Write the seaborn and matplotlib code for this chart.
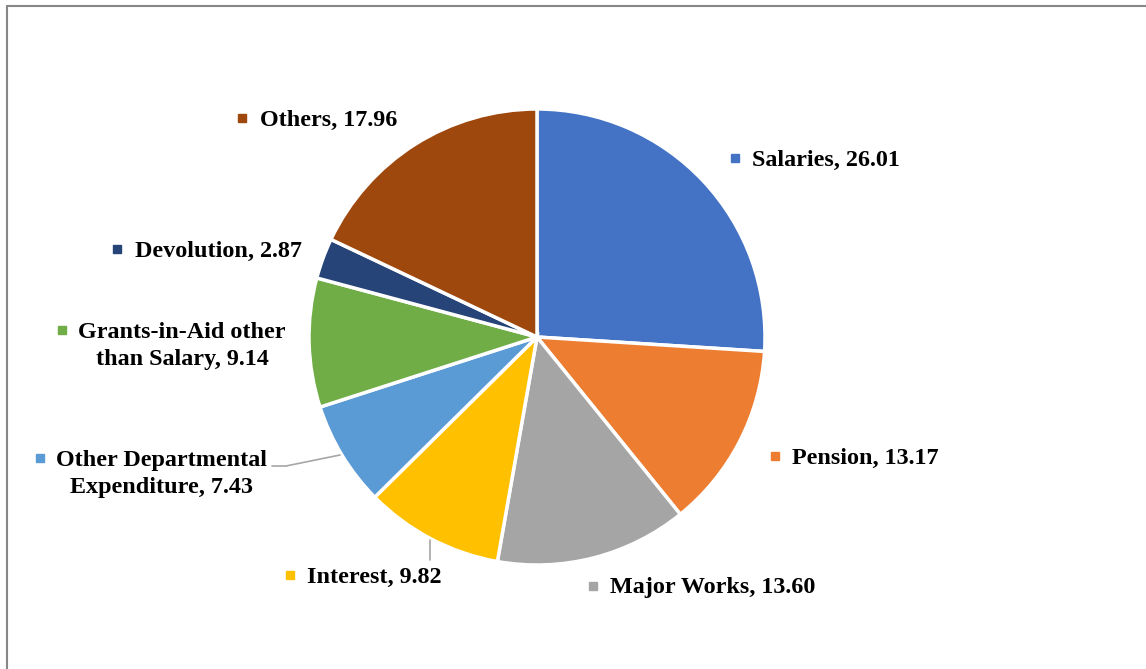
import matplotlib
matplotlib.use("Agg")
import matplotlib.pyplot as plt
import seaborn as sns
from matplotlib.lines import Line2D

sns.set_theme(style="white")
plt.rcParams['font.family'] = ['Liberation Serif', 'DejaVu Serif']

categories = ["Salaries", "Pension", "Major Works", "Interest",
              "Other Departmental\nExpenditure", "Grants-in-Aid other\nthan Salary",
              "Devolution", "Others"]
values = [26.01, 13.17, 13.60, 9.82, 7.43, 9.14, 2.87, 17.96]
colors = ["#4472C4", "#ED7D31", "#A5A5A5", "#FFC000",
          "#5B9BD5", "#70AD47", "#264478", "#9E480E"]

W, H = 1146, 669
fig = plt.figure(figsize=(W / 100, H / 100), dpi=100)
ax = fig.add_axes([0, 0, 1, 1])

cx, cy, r = 537, H - 337, 228
ax.pie(values, colors=colors, startangle=90, counterclock=False,
       center=(cx, cy), radius=r, frame=True,
       wedgeprops=dict(edgecolor="white", linewidth=2.5))
ax.set_xlim(0, W)
ax.set_ylim(0, H)
ax.axis("off")

# label layout: (marker x, marker y, text x, text y, alignment)
label_pos = [
    (735, 158, 752, 160, "left"),
    (775, 456, 792, 458, "left"),
    (593, 586, 610, 588, "left"),
    (290, 575, 307, 577, "left"),
    (40, 458, 162, 474, "center"),
    (62, 330, 182, 346, "center"),
    (117, 249, 135, 251, "left"),
    (242, 118, 260, 120, "left"),
]
for cat, val, col, (mx, my, tx, ty, al) in zip(categories, values, colors, label_pos):
    ax.plot([mx], [H - my], marker="s", markersize=5.5, color=col,
            linestyle="none")
    ax.text(tx, H - ty, f"{cat}, {val:.2f}", fontsize=17.4, fontweight="bold",
            ha=al, va="center", multialignment="center", color="black",
            linespacing=1.38)

# leader lines
ax.plot([272, 286, 340], [H - 466, H - 466, H - 455], color="#A6A6A6", lw=1.2)
ax.plot([430, 430], [H - 540, H - 560], color="#A6A6A6", lw=1.2)

# chart border
fig.add_artist(Line2D([7 / W, 1], [1 - 6 / H, 1 - 6 / H], color="#878787",
                      lw=1.5, transform=fig.transFigure))
fig.add_artist(Line2D([7 / W, 7 / W], [1 - 6 / H, 0], color="#878787",
                      lw=1.5, transform=fig.transFigure))

fig.savefig("out.png", dpi=100, facecolor="white")
